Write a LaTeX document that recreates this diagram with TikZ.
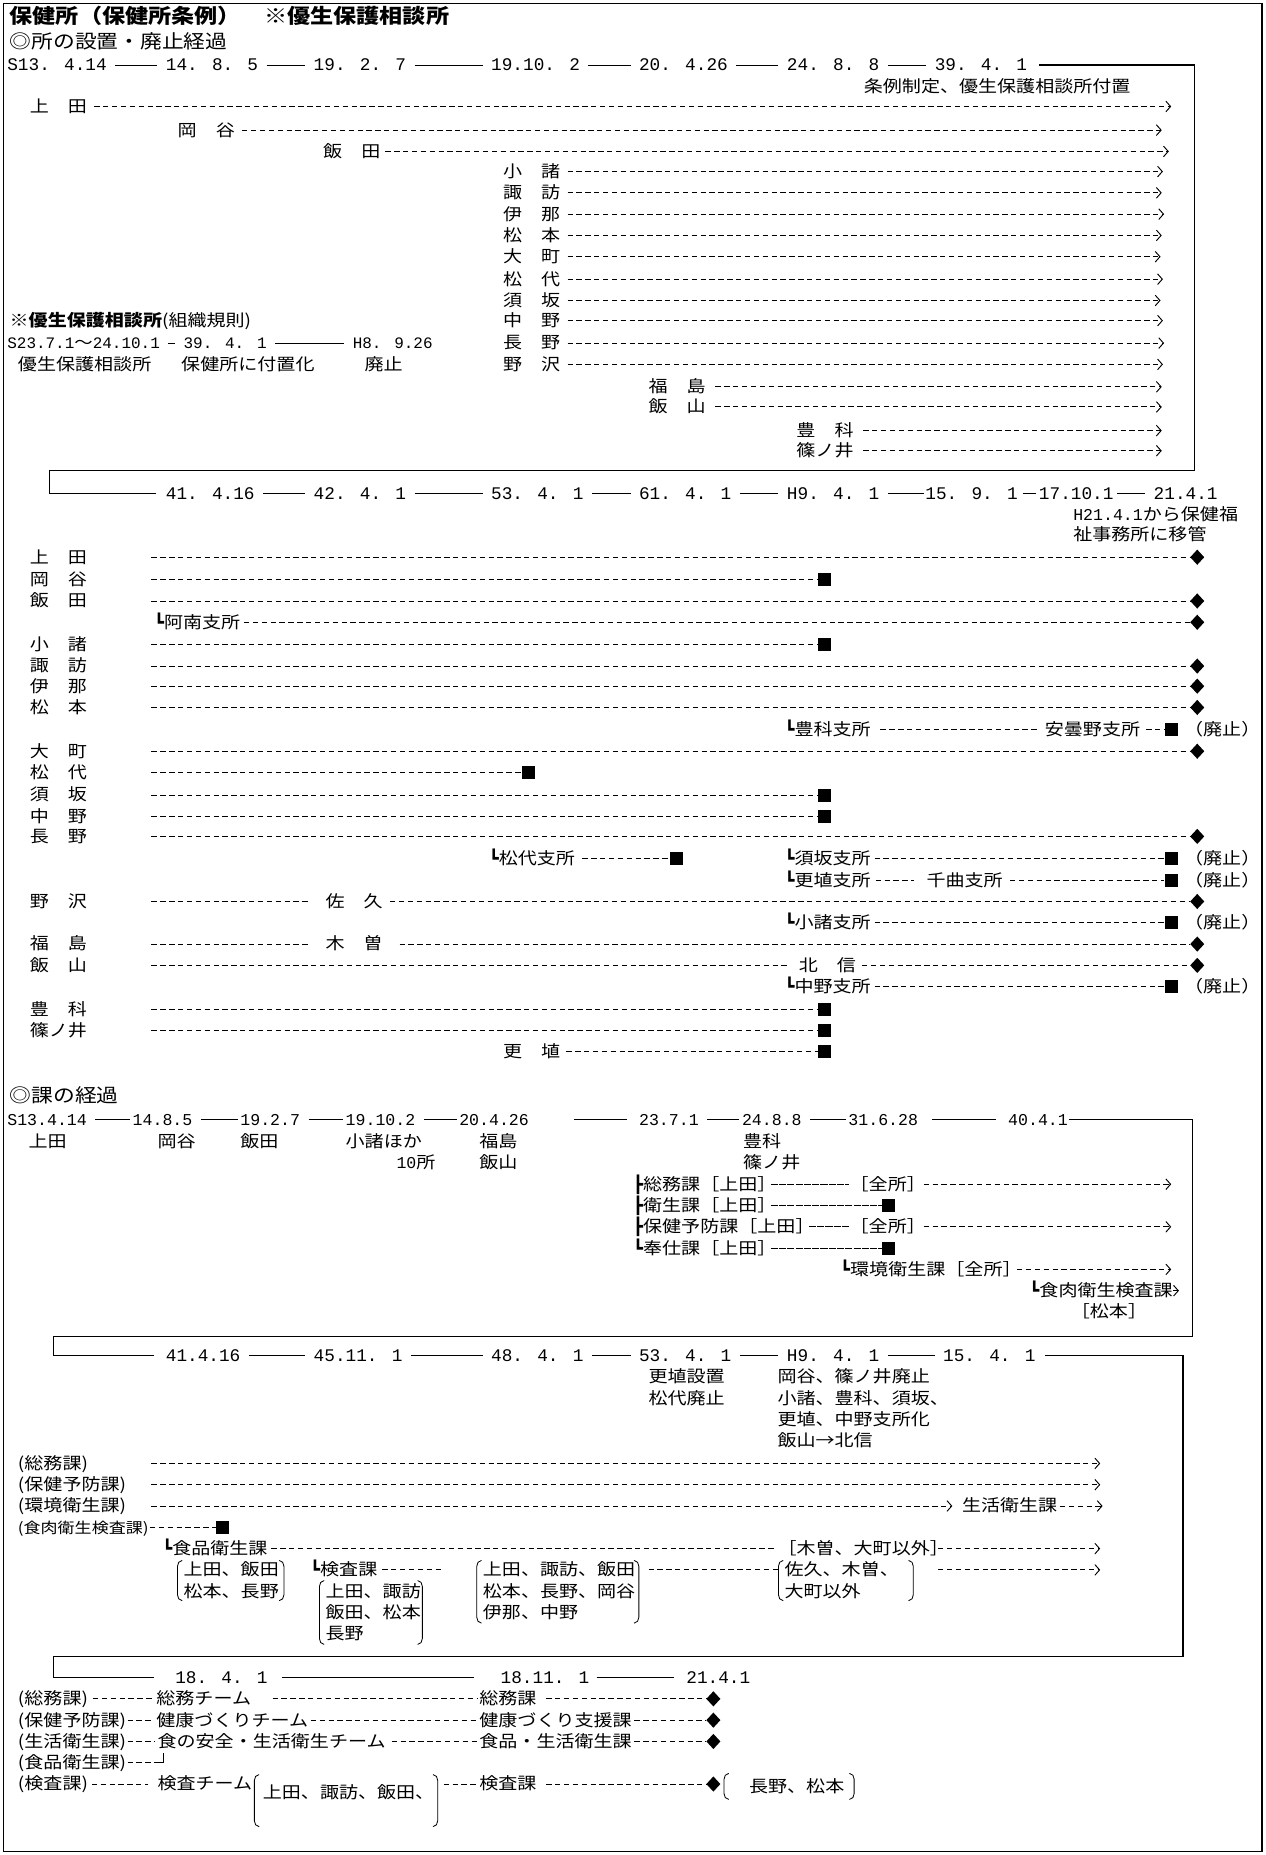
\documentclass[tikz,border=0pt]{standalone}
\usepackage{fontspec}
\usepackage{tikz}
\usetikzlibrary{shapes.geometric,arrows.meta,positioning}
\setmainfont{Noto Sans CJK JP}[FakeStretch=1.15]
\newfontfamily\dtfont{Liberation Mono}
\newfontfamily\boxfont{DejaVu Sans Mono}
\newcommand{\kagiL}{{\boxfont ┗}}
\newcommand{\kagiT}{{\boxfont ┣}}
\newcommand{\lbrk}[3]{\draw[bk] (#1+4,#2) to[out=180,in=90] (#1,#2+5) -- (#1,#3-5) to[out=-90,in=180] (#1+4,#3);}
\newcommand{\rbrk}[3]{\draw[bk] (#1-4,#2) to[out=0,in=90] (#1,#2+5) -- (#1,#3-5) to[out=-90,in=0] (#1-4,#3);}

\begin{document}
\begin{tikzpicture}[x=1pt, y=-1pt]
    % Define styles
    \tikzstyle{lbl} = [anchor=west, inner sep=0pt, text height=12pt, text depth=2pt, font=\fontsize{14}{18}\selectfont]
    \tikzstyle{head} = [lbl, font=\fontsize{16}{20}\selectfont]
    \tikzstyle{ttl} = [lbl, font=\bfseries\fontsize{17}{20}\selectfont]
    \tikzstyle{date} = [lbl, font=\dtfont\fontsize{15}{18}\selectfont]
    \tikzstyle{datesm} = [lbl, font=\dtfont\fontsize{14}{18}\selectfont]
    \tikzstyle{sq} = [rectangle, fill=black, minimum size=11pt, inner sep=0pt]
    \tikzstyle{dia} = [diamond, fill=black, minimum width=12pt, minimum height=13pt, inner sep=0pt]
    \tikzstyle{dl} = [line width=0.8pt, dash pattern=on 4.5pt off 3pt]
    \tikzstyle{arr} = [dl, -{Straight Barb[length=4pt,width=9pt]}]
    \tikzstyle{tl} = [line width=0.9pt, shorten <=7pt, shorten >=7pt]
    \tikzstyle{secline} = [line width=1pt]
    \tikzstyle{thinl} = [line width=0.6pt, dash pattern=on 6pt off 1pt]
    \tikzstyle{bk} = [line width=0.7pt]

    \useasboundingbox (0,0) rectangle (1070,1568);
    \draw[line width=1.6pt] (3,3) rectangle (1067,1565);

    % ---------- Section 1 ----------
    % Nodes
    \node[ttl] (title) at (8,15) {保健所（保健所条例）　※優生保護相談所};
    \node[head] (sec1_head) at (8,36) {◎所の設置・廃止経過};

    \node[date] (d1_s13) at (6,55) {S13. 4.14};
    \node[date] (d1_14) at (140,55) {14. 8. 5};
    \node[date] (d1_19a) at (265,55) {19. 2. 7};
    \node[date] (d1_19b) at (415,55) {19.10. 2};
    \node[date] (d1_20) at (540,55) {20. 4.26};
    \node[date] (d1_24) at (665,55) {24. 8. 8};
    \node[date] (d1_39) at (790,55) {39. 4. 1};
    \node[lbl] (jorei_note) at (730,73) {条例制定、優生保護相談所付置};

    \node[lbl] (ueda_a) at (25,90) {上　田};
    \node[lbl] (okaya_a) at (150,110) {岡　谷};
    \node[lbl] (iida_a) at (273,128) {飯　田};
    \node[lbl] (komoro_a) at (425,145) {小　諸};
    \node[lbl] (suwa_a) at (425,163) {諏　訪};
    \node[lbl] (ina_a) at (425,181) {伊　那};
    \node[lbl] (matsumoto_a) at (425,199) {松　本};
    \node[lbl] (omachi_a) at (425,217) {大　町};
    \node[lbl] (matsushiro_a) at (425,236) {松　代};
    \node[lbl] (suzaka_a) at (425,254) {須　坂};
    \node[lbl] (nakano_a) at (425,271) {中　野};
    \node[lbl] (nagano_a) at (425,290) {長　野};
    \node[lbl] (nozawa_a) at (425,308) {野　沢};
    \node[lbl] (fukushima_a) at (548,327) {福　島};
    \node[lbl] (iiyama_a) at (548,344) {飯　山};
    \node[lbl] (toyoshina_a) at (673,364) {豊　科};
    \node[lbl] (shinonoi_a) at (673,381) {篠ノ井};

    \coordinate (ueda_a_end) at (990,90);
    \coordinate (okaya_a_end) at (982,110);
    \coordinate (iida_a_end) at (988,128);
    \coordinate (komoro_a_end) at (983,145);
    \coordinate (suwa_a_end) at (982,163);
    \coordinate (ina_a_end) at (984,181);
    \coordinate (matsumoto_a_end) at (982,199);
    \coordinate (omachi_a_end) at (981,217);
    \coordinate (matsushiro_a_end) at (983,236);
    \coordinate (suzaka_a_end) at (981,254);
    \coordinate (nakano_a_end) at (983,271);
    \coordinate (nagano_a_end) at (984,290);
    \coordinate (nozawa_a_end) at (983,308);
    \coordinate (fukushima_a_end) at (982,327);
    \coordinate (iiyama_a_end) at (982,344);
    \coordinate (toyoshina_a_end) at (982,364);
    \coordinate (shinonoi_a_end) at (982,381);

    \node[lbl] (yusei_head) at (8,271) {\textbf{※優生保護相談所}(組織規則)};
    \node[lbl, font=\dtfont\fontsize{13.5}{18}\selectfont] (yusei_d1) at (6,290) {S23.7.1{\rmfamily ～}24.10.1};
    \node[lbl, font=\dtfont\fontsize{13.5}{18}\selectfont] (yusei_d2) at (155,290) {39. 4. 1};
    \node[lbl, font=\dtfont\fontsize{13.5}{18}\selectfont] (yusei_d3) at (298,290) {H8. 9.26};
    \node[lbl] (yusei_t1) at (15,308) {優生保護相談所};
    \node[lbl] (yusei_t2) at (153,308) {保健所に付置化};
    \node[lbl] (yusei_t3) at (308,308) {廃止};

    \coordinate (c1a) at (1010,55);
    \coordinate (c1b) at (1010,398);
    \coordinate (c1c) at (42,398);
    \coordinate (c1d) at (42,417);

    % Connections
    \draw[tl] (d1_s13) -- (d1_14);
    \draw[tl] (d1_14) -- (d1_19a);
    \draw[tl] (d1_19a) -- (d1_19b);
    \draw[tl] (d1_19b) -- (d1_20);
    \draw[tl] (d1_20) -- (d1_24);
    \draw[tl] (d1_24) -- (d1_39);
    \draw[tl] (yusei_d1) -- (yusei_d2);
    \draw[tl] (yusei_d2) -- (yusei_d3);

    \draw[arr, shorten <=6pt] (ueda_a) -- (ueda_a_end);
    \draw[arr, shorten <=6pt] (okaya_a) -- (okaya_a_end);
    \draw[arr, shorten <=4pt] (iida_a) -- (iida_a_end);
    \draw[arr, shorten <=6pt] (komoro_a) -- (komoro_a_end);
    \draw[arr, shorten <=6pt] (suwa_a) -- (suwa_a_end);
    \draw[arr, shorten <=6pt] (ina_a) -- (ina_a_end);
    \draw[arr, shorten <=6pt] (matsumoto_a) -- (matsumoto_a_end);
    \draw[arr, shorten <=6pt] (omachi_a) -- (omachi_a_end);
    \draw[arr, shorten <=6pt] (matsushiro_a) -- (matsushiro_a_end);
    \draw[arr, shorten <=6pt] (suzaka_a) -- (suzaka_a_end);
    \draw[arr, shorten <=6pt] (nakano_a) -- (nakano_a_end);
    \draw[arr, shorten <=6pt] (nagano_a) -- (nagano_a_end);
    \draw[arr, shorten <=6pt] (nozawa_a) -- (nozawa_a_end);
    \draw[arr, shorten <=8pt] (fukushima_a) -- (fukushima_a_end);
    \draw[arr, shorten <=8pt] (iiyama_a) -- (iiyama_a_end);
    \draw[arr, shorten <=8pt] (toyoshina_a) -- (toyoshina_a_end);
    \draw[arr, shorten <=8pt] (shinonoi_a) -- (shinonoi_a_end);

    % ---------- Section 2 ----------
    % Nodes
    \node[date] (d2_41) at (140,417) {41. 4.16};
    \node[date] (d2_42) at (265,417) {42. 4. 1};
    \node[date] (d2_53) at (415,417) {53. 4. 1};
    \node[date] (d2_61) at (540,417) {61. 4. 1};
    \node[date] (d2_h9) at (665,417) {H9. 4. 1};
    \node[date] (d2_15) at (782,417) {15. 9. 1};
    \node[date] (d2_17) at (878,417) {17.10.1};
    \node[date] (d2_21) at (975,417) {21.4.1};
    \node[lbl] (ikan_1) at (907,435) {{\dtfont H21.4.1}から保健福};
    \node[lbl] (ikan_2) at (907,452) {祉事務所に移管};

    \coordinate (col_b) at (128,0);

    \node[lbl] (ueda_b) at (25,471) {上　田};
    \node[lbl] (okaya_b) at (25,490) {岡　谷};
    \node[lbl] (iida_b) at (25,508) {飯　田};
    \node[lbl] (anan_s) at (130,526) {\kagiL 阿南支所};
    \node[lbl] (komoro_b) at (25,545) {小　諸};
    \node[lbl] (suwa_b) at (25,563) {諏　訪};
    \node[lbl] (ina_b) at (25,580) {伊　那};
    \node[lbl] (matsumoto_b) at (25,598) {松　本};
    \node[lbl] (toyoshina_s) at (663,617) {\kagiL 豊科支所};
    \node[lbl] (azumino_s) at (883,617) {安曇野支所};
    \node[lbl] (omachi_b) at (25,635) {大　町};
    \node[lbl] (matsushiro_b) at (25,653) {松　代};
    \node[lbl] (suzaka_b) at (25,672) {須　坂};
    \node[lbl] (nakano_b) at (25,690) {中　野};
    \node[lbl] (nagano_b) at (25,707) {長　野};
    \node[lbl] (matsushiro_s) at (413,726) {\kagiL 松代支所};
    \node[lbl] (suzaka_s) at (663,726) {\kagiL 須坂支所};
    \node[lbl] (koshoku_s) at (663,744) {\kagiL 更埴支所};
    \node[lbl] (chikuma_s) at (783,744) {千曲支所};
    \node[lbl] (nozawa_b) at (25,762) {野　沢};
    \node[lbl] (saku_b) at (275,762) {佐　久};
    \node[lbl] (komoro_s) at (663,780) {\kagiL 小諸支所};
    \node[lbl] (fukushima_b) at (25,798) {福　島};
    \node[lbl] (kiso_b) at (275,798) {木　曽};
    \node[lbl] (iiyama_b) at (25,816) {飯　山};
    \node[lbl] (hokushin_b) at (675,816) {北　信};
    \node[lbl] (nakano_s) at (663,834) {\kagiL 中野支所};
    \node[lbl] (toyoshina_b) at (25,853) {豊　科};
    \node[lbl] (shinonoi_b) at (25,871) {篠ノ井};
    \node[lbl] (koshoku_b) at (425,889) {更　埴};

    \node[dia] (dia_ueda) at (1012,471) {};
    \node[sq] (sq_okaya) at (697,490) {};
    \node[dia] (dia_iida) at (1012,508) {};
    \node[dia] (dia_anan) at (1012,526) {};
    \node[sq] (sq_komoro) at (697,545) {};
    \node[dia] (dia_suwa) at (1012,563) {};
    \node[dia] (dia_ina) at (1012,580) {};
    \node[dia] (dia_matsumoto) at (1012,598) {};
    \node[sq] (sq_azumino) at (990,617) {};
    \node[dia] (dia_omachi) at (1012,635) {};
    \node[sq] (sq_matsushiro) at (447,653) {};
    \node[sq] (sq_suzaka) at (697,672) {};
    \node[sq] (sq_nakano) at (697,690) {};
    \node[dia] (dia_nagano) at (1012,707) {};
    \node[sq] (sq_matsushiro_s) at (572,726) {};
    \node[sq] (sq_suzaka_s) at (990,726) {};
    \node[sq] (sq_chikuma) at (990,744) {};
    \node[dia] (dia_saku) at (1012,762) {};
    \node[sq] (sq_komoro_s) at (990,780) {};
    \node[dia] (dia_kiso) at (1012,798) {};
    \node[dia] (dia_hokushin) at (1012,816) {};
    \node[sq] (sq_nakano_s) at (990,834) {};
    \node[sq] (sq_toyoshina) at (697,853) {};
    \node[sq] (sq_shinonoi) at (697,871) {};
    \node[sq] (sq_koshoku) at (697,889) {};

    \node[lbl, right=5pt of sq_azumino] (haishi_a) {（廃止）};
    \node[lbl, right=5pt of sq_suzaka_s] (haishi_b) {（廃止）};
    \node[lbl, right=5pt of sq_chikuma] (haishi_c) {（廃止）};
    \node[lbl, right=5pt of sq_komoro_s] (haishi_d) {（廃止）};
    \node[lbl, right=5pt of sq_nakano_s] (haishi_e) {（廃止）};

    % Connections
    \draw[secline, shorten <=10pt, shorten >=8pt] (d1_39.east) -- (c1a) -- (c1b) -- (c1c) -- (c1d) -- (d2_41.west);
    \draw[tl] (d2_41) -- (d2_42);
    \draw[tl] (d2_42) -- (d2_53);
    \draw[tl] (d2_53) -- (d2_61);
    \draw[tl] (d2_61) -- (d2_h9);
    \draw[tl, shorten >=1pt] (d2_h9) -- (d2_15);
    \draw[tl, shorten <=4pt, shorten >=2pt] (d2_15) -- (d2_17);
    \draw[tl, shorten <=3pt] (d2_17) -- (d2_21);

    \draw[dl] (ueda_b.east -| col_b) -- (dia_ueda);
    \draw[dl] (okaya_b.east -| col_b) -- (sq_okaya);
    \draw[dl] (iida_b.east -| col_b) -- (dia_iida);
    \draw[dl, shorten <=3pt] (anan_s) -- (dia_anan);
    \draw[dl] (komoro_b.east -| col_b) -- (sq_komoro);
    \draw[dl] (suwa_b.east -| col_b) -- (dia_suwa);
    \draw[dl] (ina_b.east -| col_b) -- (dia_ina);
    \draw[dl] (matsumoto_b.east -| col_b) -- (dia_matsumoto);
    \draw[dl, shorten <=8pt, shorten >=6pt] (toyoshina_s) -- (azumino_s);
    \draw[dl, shorten <=5pt] (azumino_s) -- (sq_azumino);
    \draw[dl] (omachi_b.east -| col_b) -- (dia_omachi);
    \draw[dl] (matsushiro_b.east -| col_b) -- (sq_matsushiro);
    \draw[dl] (suzaka_b.east -| col_b) -- (sq_suzaka);
    \draw[dl] (nakano_b.east -| col_b) -- (sq_nakano);
    \draw[dl] (nagano_b.east -| col_b) -- (dia_nagano);
    \draw[dl, shorten <=6pt] (matsushiro_s) -- (sq_matsushiro_s);
    \draw[dl, shorten <=3pt] (suzaka_s) -- (sq_suzaka_s);
    \draw[dl, shorten <=4pt, shorten >=10pt] (koshoku_s) -- (chikuma_s);
    \draw[dl, shorten <=6pt] (chikuma_s) -- (sq_chikuma);
    \draw[dl, shorten >=14pt] (nozawa_b.east -| col_b) -- (saku_b);
    \draw[dl, shorten <=6pt] (saku_b) -- (dia_saku);
    \draw[dl, shorten <=3pt] (komoro_s) -- (sq_komoro_s);
    \draw[dl, shorten >=13pt] (fukushima_b.east -| col_b) -- (kiso_b);
    \draw[dl, shorten <=14pt] (kiso_b) -- (dia_kiso);
    \draw[dl, shorten >=10pt] (iiyama_b.east -| col_b) -- (hokushin_b);
    \draw[dl, shorten <=5pt] (hokushin_b) -- (dia_hokushin);
    \draw[dl, shorten <=3pt] (nakano_s) -- (sq_nakano_s);
    \draw[dl] (toyoshina_b.east -| col_b) -- (sq_toyoshina);
    \draw[dl] (shinonoi_b.east -| col_b) -- (sq_shinonoi);
    \draw[dl, shorten <=5pt] (koshoku_b) -- (sq_koshoku);

    % ---------- Section 3 ----------
    % Nodes
    \node[head] (sec3_head) at (8,927) {◎課の経過};
    \node[datesm] (d3_s13) at (6,946) {S13.4.14};
    \node[datesm] (d3_14) at (112,946) {14.8.5};
    \node[datesm] (d3_19a) at (203,946) {19.2.7};
    \node[datesm] (d3_19b) at (292,946) {19.10.2};
    \node[datesm] (d3_20) at (388,946) {20.4.26};
    \node[datesm] (d3_23) at (540,946) {23.7.1};
    \node[datesm] (d3_24) at (627,946) {24.8.8};
    \node[datesm] (d3_31) at (717,946) {31.6.28};
    \node[datesm] (d3_40) at (852,946) {40.4.1};

    \node[lbl] (ka_ueda) at (24,965) {上田};
    \node[lbl] (ka_okaya) at (133,965) {岡谷};
    \node[lbl] (ka_iida) at (203,965) {飯田};
    \node[lbl] (ka_komoro) at (292,965) {小諸ほか};
    \node[lbl] (ka_10) at (335,983) {{\dtfont 10}所};
    \node[lbl] (ka_fukushima) at (405,965) {福島};
    \node[lbl] (ka_iiyama) at (405,983) {飯山};
    \node[lbl] (ka_toyoshina) at (628,965) {豊科};
    \node[lbl] (ka_shinonoi) at (628,983) {篠ノ井};

    \node[lbl] (soumu_c) at (535,1001) {\kagiT 総務課［上田］};
    \node[lbl] (zensho_1) at (718,1001) {［全所］};
    \node[lbl] (eisei_c) at (535,1019) {\kagiT 衛生課［上田］};
    \node[sq] (sq_eisei) at (751,1019) {};
    \node[lbl] (hoken_c) at (535,1037) {\kagiT 保健予防課［上田］};
    \node[lbl] (zensho_2) at (718,1037) {［全所］};
    \node[lbl] (houshi_c) at (535,1055) {\kagiL 奉仕課［上田］};
    \node[sq] (sq_houshi) at (751,1055) {};
    \node[lbl] (kankyo_c) at (710,1073) {\kagiL 環境衛生課［全所］};
    \node[lbl] (niku_c) at (870,1091) {\kagiL 食肉衛生検査課};
    \node[lbl] (matsumoto_c) at (905,1109) {［松本］};

    \coordinate (zensho_1_end) at (990,1001);
    \coordinate (zensho_2_end) at (990,1037);
    \coordinate (kankyo_c_end) at (990,1073);
    \coordinate (niku_c_end) at ([xshift=5pt]niku_c.east);
    \coordinate (c3a) at (1008,946);
    \coordinate (c3b) at (1008,1130);
    \coordinate (c3c) at (45,1130);
    \coordinate (c3d) at (45,1146);

    % Connections
    \draw[tl, shorten >=2pt] (d3_s13) -- (d3_14);
    \draw[tl, shorten >=2pt] (d3_14) -- (d3_19a);
    \draw[tl, shorten >=2pt] (d3_19a) -- (d3_19b);
    \draw[tl, shorten >=2pt] (d3_19b) -- (d3_20);
    \draw[tl, shorten <=38pt, shorten >=10pt] (d3_20) -- (d3_23);
    \draw[tl, shorten >=2pt] (d3_23) -- (d3_24);
    \draw[tl, shorten >=2pt] (d3_24) -- (d3_31);
    \draw[tl, shorten <=12pt, shorten >=10pt] (d3_31) -- (d3_40);

    \draw[thinl, shorten <=-5pt] (soumu_c) -- (zensho_1);
    \draw[arr, shorten <=-2pt] (zensho_1) -- (zensho_1_end);
    \draw[thinl, shorten <=-5pt] (eisei_c) -- (sq_eisei);
    \draw[thinl, shorten <=-5pt] (hoken_c) -- (zensho_2);
    \draw[arr, shorten <=-2pt] (zensho_2) -- (zensho_2_end);
    \draw[thinl, shorten <=-5pt] (houshi_c) -- (sq_houshi);
    \draw[arr, shorten <=-4pt] (kankyo_c) -- (kankyo_c_end);
    \draw[line width=0.8pt, -{Straight Barb[length=4pt,width=9pt]}] (niku_c) -- (niku_c_end);

    % ---------- Section 4 ----------
    % Nodes
    \node[date] (d4_41) at (140,1146) {41.4.16};
    \node[date] (d4_45) at (265,1146) {45.11. 1};
    \node[date] (d4_48) at (415,1146) {48. 4. 1};
    \node[date] (d4_53) at (540,1146) {53. 4. 1};
    \node[date] (d4_h9) at (665,1146) {H9. 4. 1};
    \node[date] (d4_15) at (797,1146) {15. 4. 1};

    \node[lbl] (kr_1) at (548,1164) {更埴設置};
    \node[lbl] (kr_2) at (548,1182) {松代廃止};
    \node[lbl] (kr_3) at (657,1164) {岡谷、篠ノ井廃止};
    \node[lbl] (kr_4) at (657,1182) {小諸、豊科、須坂、};
    \node[lbl] (kr_5) at (657,1200) {更埴、中野支所化};
    \node[lbl] (kr_6) at (657,1218) {飯山→北信};

    \coordinate (col_e) at (793,0);
    \node[lbl] (soumu_d) at (15,1237) {(総務課)};
    \node[lbl] (hoken_d) at (15,1255) {(保健予防課)};
    \node[lbl] (kankyo_d) at (15,1273) {(環境衛生課)};
    \node[lbl] (seikatsu_d) at (813,1273) {生活衛生課};
    \node[lbl, font=\fontsize{12.5}{18}\selectfont] (shokuniku_d) at (15,1291) {(食肉衛生検査課)};
    \node[sq] (sq_shokuniku) at (188,1291) {};
    \node[lbl] (shokuhin_d) at (137,1309) {\kagiL 食品衛生課};
    \node[lbl] (kiso_d) at (657,1309) {［木曽、大町以外］};

    \node[lbl] (boxa_1) at (155,1327) {上田、飯田};
    \node[lbl] (boxa_2) at (155,1345) {松本、長野};
    \node[lbl] (kensa_d) at (262,1327) {\kagiL 検査課};
    \node[lbl] (boxb_1) at (275,1345) {上田、諏訪};
    \node[lbl] (boxb_2) at (275,1363) {飯田、松本};
    \node[lbl] (boxb_3) at (275,1381) {長野};
    \node[lbl] (boxc_1) at (408,1327) {上田、諏訪、飯田};
    \node[lbl] (boxc_2) at (408,1345) {松本、長野、岡谷};
    \node[lbl] (boxc_3) at (408,1363) {伊那、中野};
    \node[lbl] (boxd_1) at (663,1327) {佐久、木曽、};
    \node[lbl] (boxd_2) at (663,1345) {大町以外};

    \coordinate (soumu_d_end) at (930,1237);
    \coordinate (hoken_d_end) at (930,1255);
    \coordinate (kankyo_d_end) at (805,1273);
    \coordinate (seikatsu_d_end) at (932,1273);
    \coordinate (kiso_d_end) at (930,1309);
    \coordinate (boxd_end) at (930,1327);
    \coordinate (kensa_d_end) at (375,1327);
    \coordinate (c4a) at (1000,1146);
    \coordinate (c4b) at (1000,1400);
    \coordinate (c4c) at (45,1400);
    \coordinate (c4d) at (45,1418);

    % Connections
    \draw[secline, shorten <=1pt, shorten >=10pt] (d3_40.east) -- (c3a) -- (c3b) -- (c3c) -- (c3d) -- (d4_41.west);
    \draw[tl] (d4_41) -- (d4_45);
    \draw[tl] (d4_45) -- (d4_48);
    \draw[tl] (d4_48) -- (d4_53);
    \draw[tl] (d4_53) -- (d4_h9);
    \draw[tl] (d4_h9) -- (d4_15);

    \draw[arr] (soumu_d.east -| col_b) -- (soumu_d_end);
    \draw[arr] (hoken_d.east -| col_b) -- (hoken_d_end);
    \draw[arr] (kankyo_d.east -| col_b) -- (kankyo_d_end);
    \draw[arr, shorten <=2pt] (seikatsu_d) -- (seikatsu_d_end);
    \draw[dl, shorten <=1pt] (shokuniku_d) -- (sq_shokuniku);
    \draw[dl, shorten <=3pt, shorten >=2pt] (shokuhin_d) -- (kiso_d);
    \draw[arr] (kiso_d.east -| col_e) -- (kiso_d_end);
    \draw[dl, shorten <=4pt] (kensa_d) -- (kensa_d_end);
    \draw[dl, shorten <=11pt, shorten >=4pt] (boxc_1) -- (boxd_1);
    \draw[arr] (boxd_1.east -| col_e) -- (boxd_end);

    \lbrk{150}{1319}{1353} \rbrk{240}{1319}{1353}
    \lbrk{270}{1336}{1390} \rbrk{357}{1336}{1390}
    \lbrk{403}{1319}{1372} \rbrk{540}{1319}{1372}
    \lbrk{658}{1319}{1353} \rbrk{772}{1319}{1353}

    % ---------- Section 5 ----------
    % Nodes
    \node[date] (d5_18a) at (148,1418) {18. 4. 1};
    \node[date] (d5_18b) at (423,1418) {18.11. 1};
    \node[date] (d5_21) at (580,1418) {21.4.1};

    \node[lbl] (soumu_e) at (15,1436) {(総務課)};
    \node[lbl] (soumu_team) at (132,1436) {総務チーム};
    \node[lbl] (soumu_ka) at (405,1436) {総務課};
    \node[dia] (dia_soumu) at (603,1436) {};
    \node[lbl] (hoken_e) at (15,1454) {(保健予防課)};
    \node[lbl] (kenko_team) at (132,1454) {健康づくりチーム};
    \node[lbl] (kenko_ka) at (405,1454) {健康づくり支援課};
    \node[dia] (dia_kenko) at (603,1454) {};
    \node[lbl] (seikatsu_e) at (15,1472) {(生活衛生課)};
    \node[lbl] (shoku_team) at (133,1472) {食の安全・生活衛生チーム};
    \node[lbl] (shoku_ka) at (405,1472) {食品・生活衛生課};
    \node[dia] (dia_shoku) at (603,1472) {};
    \node[lbl] (shokuhin_e) at (15,1490) {(食品衛生課)};
    \node[lbl] (kensa_e) at (15,1508) {(検査課)};
    \node[lbl] (kensa_team) at (133,1508) {検査チーム};
    \node[lbl] (boxe_1) at (222,1515) {上田、諏訪、飯田、};
    \node[lbl] (kensa_ka) at (405,1508) {検査課};
    \node[dia] (dia_kensa) at (603,1508) {};
    \node[lbl] (boxf_1) at (633,1510) {長野、松本};

    \coordinate (kagi_e) at (131,1490);
    \coordinate (kagi_top) at (138,1482);
    \coordinate (col_f) at (375,0);

    % Connections
    \draw[secline, shorten <=8pt, shorten >=18pt] (d4_15.east) -- (c4a) -- (c4b) -- (c4c) -- (c4d) -- (d5_18a.west);
    \draw[tl, shorten <=12pt, shorten >=22pt] (d5_18a) -- (d5_18b);
    \draw[tl, shorten <=6pt, shorten >=10pt] (d5_18b) -- (d5_21);

    \draw[dl, shorten <=4pt, shorten >=2pt] (soumu_e) -- (soumu_team);
    \draw[dl, shorten <=18pt, shorten >=2pt] (soumu_team) -- (soumu_ka);
    \draw[dl, shorten <=8pt] (soumu_ka) -- (dia_soumu);
    \draw[dl, shorten <=1pt, shorten >=2pt] (hoken_e) -- (kenko_team);
    \draw[dl, shorten <=2pt, shorten >=2pt] (kenko_team) -- (kenko_ka);
    \draw[dl, shorten <=2pt] (kenko_ka) -- (dia_kenko);
    \draw[dl, shorten <=1pt, shorten >=2pt] (seikatsu_e) -- (shoku_team);
    \draw[dl, shorten <=5pt, shorten >=2pt] (shoku_team) -- (shoku_ka);
    \draw[dl, shorten <=2pt] (shoku_ka) -- (dia_shoku);
    \draw[dl, shorten <=1pt] (shokuhin_e) -- (kagi_e);
    \draw[line width=1.2pt] (kagi_e) -| (kagi_top);
    \draw[dl, shorten <=3pt, shorten >=8pt] (kensa_e) -- (kensa_team);
    \draw[dl, shorten >=2pt] (kensa_ka.west -| col_f) -- (kensa_ka);
    \draw[dl, shorten <=8pt] (kensa_ka) -- (dia_kensa);

    \lbrk{215}{1500}{1544} \rbrk{370}{1500}{1544}
    \lbrk{612}{1499}{1521} \rbrk{722}{1499}{1521}
\end{tikzpicture}
\end{document}
